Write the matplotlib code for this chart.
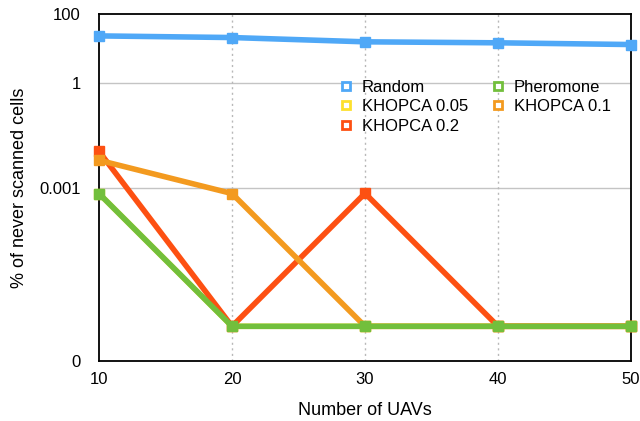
import numpy as np
import matplotlib
matplotlib.use('Agg')
import matplotlib.pyplot as plt
from matplotlib.lines import Line2D

plt.rcParams['font.family'] = ['Liberation Sans', 'DejaVu Sans']

# data (floor value 1e-7 stands for "never missed a cell")
uavs = [10, 20, 30, 40, 50]
random_vals = [23.4, 21.0, 15.8, 14.8, 13.2]
khopca005 = [0.00067, 1e-7, 1e-7, 1e-7, 1e-7]
khopca02 = [0.011, 1e-7, 0.00068, 1e-7, 1e-7]
khopca01 = [0.0061, 0.00067, 1e-7, 1e-7, 1e-7]
pheromone = [0.00067, 1e-7, 1e-7, 1e-7, 1e-7]

ytick_vals = [1e-8, 1e-3, 1, 100]
ytick_labels = ['0', '0.001', '1', '100']

c_random = '#4fa8f7'
c_k005 = '#fde02e'
c_k02 = '#fd5012'
c_k01 = '#f39a1f'
c_pher = '#72bf3c'

fig = plt.figure(figsize=(6.4, 4.21), dpi=100)
ax = fig.add_axes([0.1547, 0.1425, 0.8313, 0.8242])

series = [(random_vals, c_random), (khopca005, c_k005), (khopca02, c_k02),
          (khopca01, c_k01), (pheromone, c_pher)]
for vals, col in series:
    ax.plot(uavs, vals, color=col, lw=4, marker='s', ms=7.5, mec=col, mfc=col,
            clip_on=False, zorder=3, solid_joinstyle='miter')

ax.set_yscale('log')
ax.set_ylim(1e-8, 100)
ax.set_xlim(10, 50)
ax.set_yticks(ytick_vals)
ax.set_yticklabels(ytick_labels)
ax.minorticks_off()
ax.set_xticks(uavs)
ax.tick_params(axis='y', length=0, labelsize=12, pad=13)
ax.tick_params(axis='x', length=0, labelsize=12, pad=8)

for y in [1e-3, 1]:
    ax.axhline(y, color='#c4c4c4', lw=1, zorder=1)
for x in [20, 30, 40]:
    ax.axvline(x, color='#b8b8b8', lw=1, ls=(0, (1.5, 2.5)), zorder=1)

for sp in ax.spines.values():
    sp.set_linewidth(1.3)
    sp.set_color('black')

ax.set_xlabel('Number of UAVs', fontsize=13, labelpad=11)
ax.set_ylabel('% of never scanned cells', fontsize=13, labelpad=8)

names = ['Random', 'KHOPCA 0.05', 'KHOPCA 0.2', 'Pheromone', 'KHOPCA 0.1']
cols = [c_random, c_k005, c_k02, c_pher, c_k01]
handles = [Line2D([], [], lw=0, marker='s', ms=5.5, mfc='white', mec=c, mew=2)
           for c in cols]
ax.legend(handles, names, ncol=2, loc='upper left', bbox_to_anchor=(0.437, 0.835),
          frameon=False, fontsize=12, handlelength=0.7, handletextpad=0.6,
          columnspacing=1.45, labelspacing=0.28, borderpad=0)

fig.savefig('out.png', dpi=100)
